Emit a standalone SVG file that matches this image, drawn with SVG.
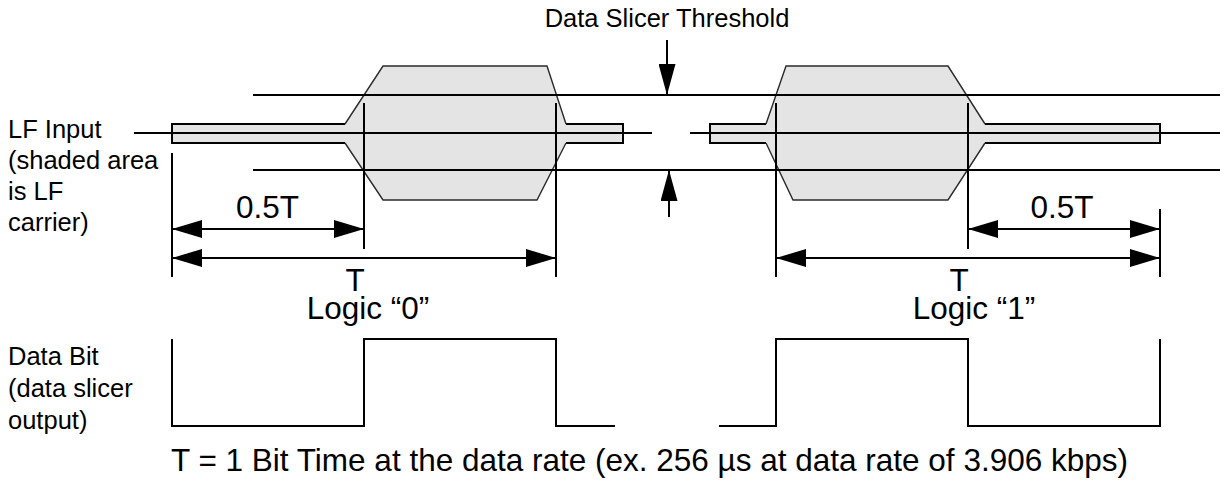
<svg xmlns="http://www.w3.org/2000/svg" width="1225" height="483" viewBox="0 0 1225 483">
  <style>
    .lbl { font-family: "Liberation Sans", Arial, sans-serif; font-size: 25.5px; fill: #000; }
    .big { font-family: "Liberation Sans", Arial, sans-serif; font-size: 31.5px; fill: #000; }
    .ln { stroke: #000; stroke-width: 2; fill: none; }
    .fill { fill: #e4e4e4; stroke: none; }
    .strip { fill: none; stroke: #000; stroke-width: 2; }
    .bump { fill: none; stroke: #2a2a2a; stroke-width: 1.4; }
    .dim { stroke: #000; stroke-width: 2; fill: none; marker-start: url(#ah); marker-end: url(#ah); }
    .arr { stroke: #000; stroke-width: 2; fill: none; marker-end: url(#ah2); }
  </style>
  <defs>
    <marker id="ah" viewBox="0 0 30 18" refX="30" refY="9" markerWidth="30" markerHeight="18" markerUnits="userSpaceOnUse" orient="auto-start-reverse">
      <path d="M0,0 L30,9 L0,18 Z" fill="#000"/>
    </marker>
    <marker id="ah2" viewBox="0 0 31 17" refX="31" refY="8.5" markerWidth="31" markerHeight="17" markerUnits="userSpaceOnUse" orient="auto">
      <path d="M0,0 L31,8.5 L0,17 Z" fill="#000"/>
    </marker>
  </defs>

  <g id="labels">
    <text class="lbl" x="8" y="138">LF Input</text>
    <text class="lbl" x="8" y="169">(shaded area</text>
    <text class="lbl" x="8" y="200">is LF</text>
    <text class="lbl" x="8" y="231">carrier)</text>
    <text class="lbl" x="8" y="365">Data Bit</text>
    <text class="lbl" x="8" y="397">(data slicer</text>
    <text class="lbl" x="8" y="429">output)</text>
    <text class="lbl" x="667" y="27" text-anchor="middle">Data Slicer Threshold</text>
  </g>

  <g id="lf-carrier-logic0">
    <path class="fill" d="M172,124 H345 L383,66 H547 L566,124 H623 V143 H566 L537,200 H383 L345,143 H172 Z"/>
    <path class="strip" d="M345,124 H172 V143 H345 M566,124 H623 V143 H566"/>
    <path class="bump" d="M345,124 L383,66 H547 L566,124 M345,143 L383,200 H537 L566,143"/>
  </g>
  <g id="lf-carrier-logic1">
    <path class="fill" d="M710,124 H766 L786,66 H948 L985,124 H1160 V143 H985 L948,200 H793 L766,143 H710 Z"/>
    <path class="strip" d="M766,124 H710 V143 H766 M985,124 H1160 V143 H985"/>
    <path class="bump" d="M766,124 L786,66 H948 L985,124 M766,143 L793,200 H948 L985,143"/>
  </g>

  <g id="threshold-lines">
    <line class="ln" x1="253" y1="95" x2="1220" y2="95"/>
    <line class="ln" x1="253" y1="170" x2="1220" y2="170"/>
    <line class="ln" x1="134" y1="133" x2="652" y2="133"/>
    <line class="ln" x1="690" y1="133" x2="1220" y2="133"/>
  </g>

  <g id="timing-marks">
    <line class="ln" x1="172" y1="153" x2="172" y2="277"/>
    <line class="ln" x1="364" y1="103" x2="364" y2="249"/>
    <line class="ln" x1="556" y1="103" x2="556" y2="277"/>
    <line class="ln" x1="776" y1="103" x2="776" y2="277"/>
    <line class="ln" x1="968" y1="103" x2="968" y2="249"/>
    <line class="ln" x1="1160" y1="209" x2="1160" y2="277"/>
  </g>

  <g id="connectors">
    <line class="arr" x1="667" y1="40" x2="667" y2="95"/>
    <line class="arr" x1="669" y1="217" x2="669" y2="170"/>
    <line class="dim" x1="172" y1="229" x2="364" y2="229"/>
    <line class="dim" x1="172" y1="258" x2="556" y2="258"/>
    <line class="dim" x1="968" y1="229" x2="1160" y2="229"/>
    <line class="dim" x1="776" y1="258" x2="1160" y2="258"/>
  </g>

  <g id="dimension-labels">
    <text class="big" x="267.5" y="218" text-anchor="middle">0.5T</text>
    <text class="big" x="1062" y="218" text-anchor="middle">0.5T</text>
    <text class="big" x="355" y="291" text-anchor="middle">T</text>
    <text class="big" x="959" y="291" text-anchor="middle">T</text>
    <text class="big" x="368" y="319" text-anchor="middle">Logic “0”</text>
    <text class="big" x="974" y="319" text-anchor="middle">Logic “1”</text>
  </g>

  <g id="data-bit">
    <path class="ln" d="M172,339 V426 H364 V339 H556 V426 H615"/>
    <path class="ln" d="M719,426 H776 V339 H968 V426 H1160 V339"/>
  </g>

  <g id="footnote">
    <text class="big" x="171" y="471">T = 1 Bit Time at the data rate (ex. 256 µs at data rate of 3.906 kbps)</text>
  </g>
</svg>
